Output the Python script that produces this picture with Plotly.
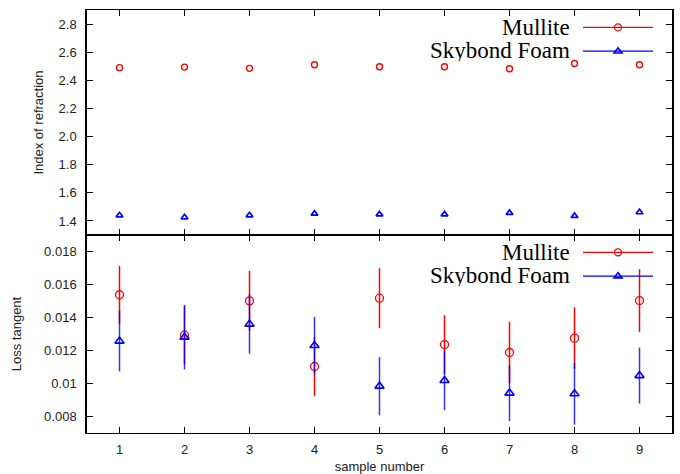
import plotly.graph_objects as go
from plotly.subplots import make_subplots

# ---- data ----
samples = [1, 2, 3, 4, 5, 6, 7, 8, 9]
series_names = ["Mullite", "Skybond Foam"]

mullite_index = [2.490, 2.494, 2.485, 2.511, 2.497, 2.497, 2.482, 2.520, 2.511]
skybond_index = [1.440, 1.426, 1.440, 1.452, 1.447, 1.447, 1.457, 1.436, 1.462]

mullite_loss = [0.01538, 0.01293, 0.01501, 0.01103, 0.01517, 0.01236, 0.01188, 0.01275, 0.01503]
mullite_loss_err = [0.00175, 0.00178, 0.00182, 0.00178, 0.00182, 0.00178, 0.00186, 0.00186, 0.00190]
skybond_loss = [0.01257, 0.01281, 0.01360, 0.01230, 0.00984, 0.01018, 0.00942, 0.00938, 0.01048]
skybond_loss_err = [0.00184, 0.00195, 0.00180, 0.00174, 0.00177, 0.00180, 0.00170, 0.00187, 0.00170]

index_ticks = [1.4, 1.6, 1.8, 2.0, 2.2, 2.4, 2.6, 2.8]
index_ticktext = ["1.4", "1.6", "1.8", "2.0", "2.2", "2.4", "2.6", "2.8"]
loss_ticks = [0.008, 0.010, 0.012, 0.014, 0.016, 0.018]
loss_ticktext = ["0.008", "0.01", "0.012", "0.014", "0.016", "0.018"]

RED = "#ff0000"
BLUE = "#0000ff"
SANS = "Liberation Sans, Arial, sans-serif"
SERIF = "Liberation Serif, Times New Roman, serif"

W, H = 680, 474
ML, MR, MT, MB = 87, 8, 9.5, 41.3
PW = W - ML - MR
PH = H - MT - MB

fig = make_subplots(rows=2, cols=1, shared_xaxes=True, vertical_spacing=0,
                    row_heights=[0.532, 0.468])

# top panel
fig.add_trace(go.Scatter(x=samples, y=mullite_index, mode="markers", showlegend=False,
                         marker=dict(symbol="circle-open", size=6, color=RED, line=dict(width=1.4, color=RED))),
              row=1, col=1)
fig.add_trace(go.Scatter(x=samples, y=skybond_index, mode="markers", showlegend=False,
                         marker=dict(symbol="triangle-up-open", size=6, color=BLUE, line=dict(width=1.7, color=BLUE))),
              row=1, col=1)

# bottom panel
fig.add_trace(go.Scatter(x=samples, y=mullite_loss, mode="markers", showlegend=False,
                         error_y=dict(type="data", array=mullite_loss_err, color=RED, thickness=1.5, width=0),
                         marker=dict(symbol="circle-open", size=8, color=RED, line=dict(width=1.3, color=RED))),
              row=2, col=1)
fig.add_trace(go.Scatter(x=samples, y=skybond_loss, mode="markers", showlegend=False,
                         error_y=dict(type="data", array=skybond_loss_err, color="rgba(0,0,255,0.8)", thickness=1.5, width=0),
                         marker=dict(symbol="triangle-up-open", size=8, color=BLUE, line=dict(width=1.6, color=BLUE))),
              row=2, col=1)

# legend sample traces
for lg in ["legend", "legend2"]:
    fig.add_trace(go.Scatter(x=[None], y=[None], mode="lines+markers", name="", legend=lg,
                             line=dict(color=RED, width=1.3),
                             marker=dict(symbol="circle-open", size=7, color=RED, line=dict(width=1.3, color=RED))))
    fig.add_trace(go.Scatter(x=[None], y=[None], mode="lines+markers", name="", legend=lg,
                             line=dict(color=BLUE, width=1.3),
                             marker=dict(symbol="triangle-up-open", size=7, color=BLUE, line=dict(width=1.6, color=BLUE))))

def px_x(px):
    return (px - ML) / PW

def px_y(py):
    return (H - MB - py) / PH

leg_common = dict(bgcolor="rgba(0,0,0,0)", borderwidth=0, font=dict(size=16, family=SANS),
                  xanchor="left", yanchor="top", itemwidth=70, tracegroupgap=0)
fig.update_layout(
    legend=dict(x=px_x(578), y=px_y(10), **leg_common),
    legend2=dict(x=px_x(578), y=px_y(235), **leg_common),
)

# legend labels (left of samples)
for name, py in zip(series_names, [26.5, 49.8]):
    fig.add_annotation(text=name, xref="paper", yref="paper", x=px_x(572), y=px_y(py),
                       xanchor="right", yanchor="middle", showarrow=False, height=22,
                       font=dict(family=SERIF, size=23, color="black"))
for name, py in zip(series_names, [251.5, 274.8]):
    fig.add_annotation(text=name, xref="paper", yref="paper", x=px_x(572), y=px_y(py),
                       xanchor="right", yanchor="middle", showarrow=False, height=22,
                       font=dict(family=SERIF, size=23, color="black"))

axis_common = dict(showline=True, linecolor="black", linewidth=1.5, mirror="ticks",
                   ticks="inside", ticklen=6, tickwidth=1.2, tickcolor="black",
                   showgrid=False, zeroline=False, automargin=False,
                   tickfont=dict(family=SANS, size=13, color="#222"))

fig.update_xaxes(range=[0.5, 9.5], tickvals=samples, **axis_common)
fig.update_xaxes(linewidth=1)
fig.update_xaxes(showticklabels=False, row=1, col=1)
fig.update_xaxes(title=dict(text="sample number", font=dict(family=SANS, size=13, color="#222"), standoff=6),
                 ticklabelstandoff=4, row=2, col=1)

fig.update_yaxes(range=[1.3, 2.9], tickvals=index_ticks, ticktext=index_ticktext,
                 title=dict(text="Index of refraction", font=dict(family=SANS, size=13, color="#222"), standoff=12),
                 ticklabelstandoff=6, row=1, col=1, **axis_common)
fig.update_yaxes(range=[0.007, 0.019], tickvals=loss_ticks, ticktext=loss_ticktext,
                 title=dict(text="Loss tangent", font=dict(family=SANS, size=13, color="#222"), standoff=20),
                 ticklabelstandoff=6, row=2, col=1, **axis_common)

fig.update_layout(width=W, height=H, margin=dict(l=ML, r=MR, t=MT, b=MB),
                  plot_bgcolor="white", paper_bgcolor="white")

fig.write_html("out.html")
